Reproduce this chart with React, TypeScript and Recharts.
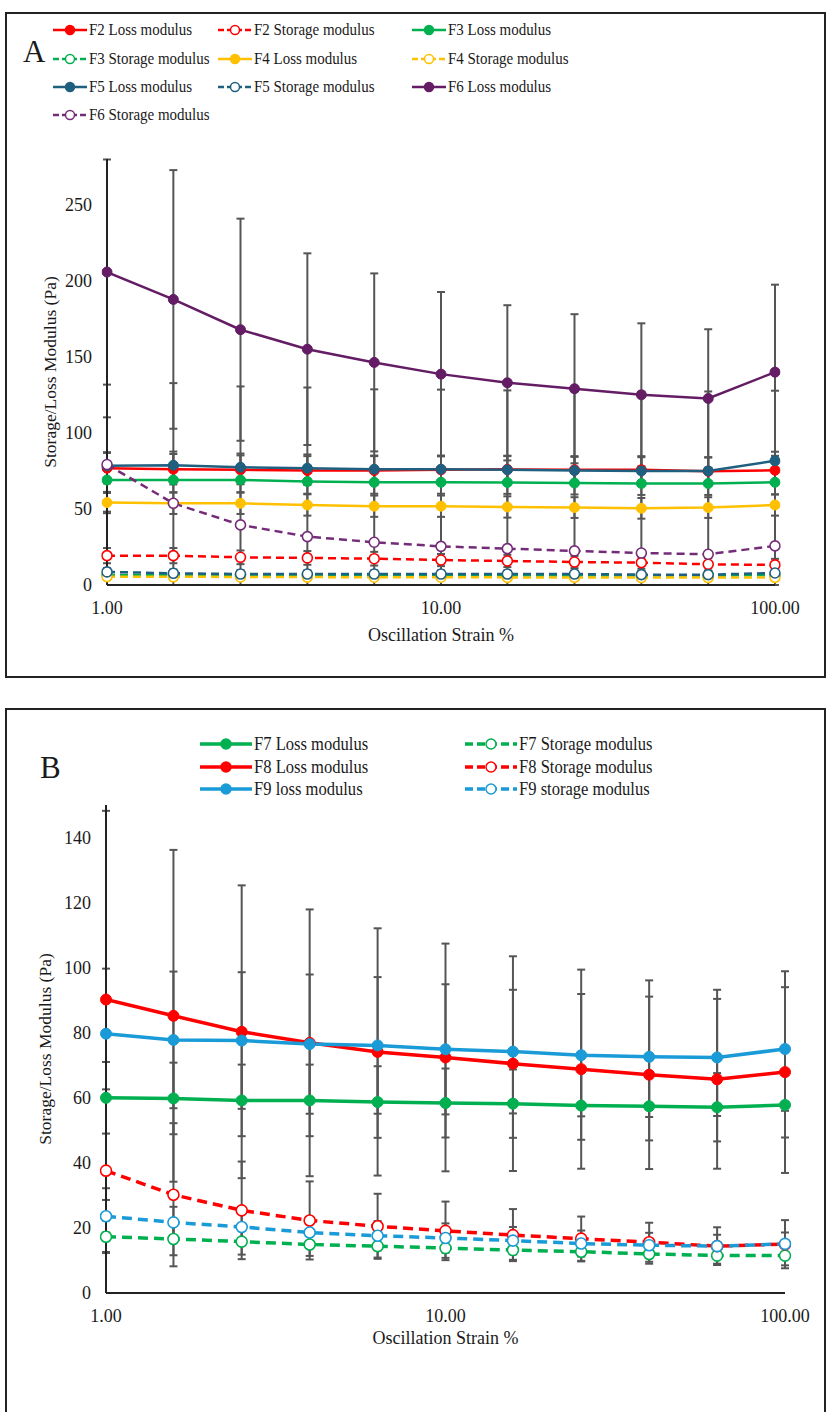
import React from 'react';
import { LineChart, Line, XAxis, YAxis, ErrorBar, Label } from 'recharts';

// oscillation strain (%), shared by both panels
const strain = [1, 1.58, 2.51, 3.98, 6.31, 10, 15.8, 25.1, 39.8, 63.1, 100];
const xTicks = [1, 10, 100];
const yTicksA = [0, 50, 100, 150, 200, 250];
const yTicksB = [0, 20, 40, 60, 80, 100, 120, 140];

// Panel A (Pa) with standard deviations
const f2Loss = [76.8, 76.1, 75.7, 75.2, 75.2, 75.7, 76.0, 75.7, 75.7, 74.8, 75.4];
const f2LossSd = [10, 10, 9.5, 9.5, 9.5, 9, 9, 9, 9, 9, 9.5];
const f2Storage = [19.3, 19.3, 18.2, 17.8, 17.3, 16.4, 15.8, 15.1, 14.7, 13.6, 13.2];
const f2StorageSd = [5, 5, 4.5, 4.5, 4.5, 4, 4, 4, 4, 4, 4];
const f3Loss = [69.0, 69.0, 69.0, 68.0, 67.5, 67.5, 67.4, 67.0, 66.7, 66.7, 67.5];
const f3LossSd = [8.5, 8, 8, 8, 7.5, 7.5, 7.5, 7.5, 7.5, 7.5, 8];
const f3Storage = [6.6, 6.6, 6.5, 6.5, 6.4, 6.4, 6.3, 6.3, 6.2, 6.2, 6.5];
const f3StorageSd = [2, 2, 2, 1.8, 1.8, 1.8, 1.8, 1.8, 1.7, 1.7, 1.8];
const f4Loss = [54.2, 53.7, 53.7, 52.6, 51.8, 51.8, 51.3, 50.9, 50.4, 50.9, 52.6];
const f4LossSd = [7, 7, 7, 7, 7, 7, 7, 6.8, 6.8, 6.8, 7];
const f4Storage = [5.5, 5.4, 5.3, 5.2, 5.1, 5.1, 5.0, 5.0, 4.9, 4.9, 5.0];
const f4StorageSd = [1.5, 1.5, 1.5, 1.4, 1.4, 1.4, 1.4, 1.3, 1.3, 1.3, 1.4];
const f5Loss = [78.3, 78.7, 77.4, 76.8, 76.1, 76.1, 75.7, 75.2, 75.0, 75.0, 81.6];
const f5LossSd = [9, 9, 9, 9, 9, 9, 9, 9, 9, 9, 6];
const f5Storage = [8.6, 7.7, 7.2, 7.2, 7.2, 7.2, 7.2, 7.2, 6.8, 6.8, 7.9];
const f5StorageSd = [2.5, 2.5, 2.5, 2.4, 2.4, 2.4, 2.3, 2.3, 2.3, 2.3, 2.5];
const f6Loss = [205.7, 187.7, 167.8, 155.0, 146.3, 138.6, 132.9, 129.0, 125.0, 122.6, 139.9];
const f6LossSd = [74, 85, 73, 63, 58.5, 54, 51, 49, 47, 45.5, 57.5];
const f6Storage = [79.2, 53.7, 39.5, 31.8, 28.1, 25.4, 23.9, 22.4, 21.0, 20.2, 25.7];
const f6StorageSd = [31, 79, 91, 98, 100.5, 103, 104, 105, 106, 107, 102];

// Panel B (Pa) with standard deviations
const f7Loss = [60.0, 59.8, 59.2, 59.2, 58.7, 58.4, 58.2, 57.6, 57.4, 57.1, 57.8];
const f7LossSd = [11, 11, 11, 11, 11, 10.6, 10.5, 10.5, 10.5, 10.5, 10];
const f7Storage = [17.3, 16.6, 15.8, 14.9, 14.4, 13.8, 13.2, 12.7, 12.0, 11.5, 11.5];
const f7StorageSd = [5, 5, 4, 3.5, 3.5, 3, 3, 3, 3, 2.5, 3];
const f8Loss = [90.2, 85.2, 80.3, 76.9, 74.1, 72.4, 70.5, 68.8, 67.1, 65.7, 67.9];
const f8LossSd = [58, 51, 45, 41, 38, 35, 33, 30.6, 29, 27.5, 31];
const f8Storage = [37.6, 30.2, 25.4, 22.3, 20.5, 19.1, 17.8, 16.7, 15.6, 14.4, 15.0];
const f8StorageSd = [25, 22, 15, 12, 10, 9, 8, 6.8, 6, 5.8, 7.4];
const f9Loss = [79.7, 77.8, 77.6, 76.5, 76.1, 74.9, 74.2, 73.1, 72.6, 72.4, 75.0];
const f9LossSd = [20, 21, 21, 21.4, 21, 20, 19, 18.8, 18.5, 18, 19];
const f9Storage = [23.6, 21.7, 20.3, 18.6, 17.6, 16.9, 16.1, 15.2, 14.7, 14.4, 15.1];
const f9StorageSd = [5, 4.8, 4.6, 4.5, 4.5, 4.5, 4.2, 4, 3.8, 3.5, 3.5];

type Series = { key: string; name: string; color: string; dashed: boolean; values: number[]; sd: number[] };

const seriesA: Series[] = [
  { key: 'f2l', name: 'F2 Loss modulus', color: '#ff0000', dashed: false, values: f2Loss, sd: f2LossSd },
  { key: 'f2s', name: 'F2 Storage modulus', color: '#ff0000', dashed: true, values: f2Storage, sd: f2StorageSd },
  { key: 'f3l', name: 'F3 Loss modulus', color: '#00b050', dashed: false, values: f3Loss, sd: f3LossSd },
  { key: 'f3s', name: 'F3 Storage modulus', color: '#00b050', dashed: true, values: f3Storage, sd: f3StorageSd },
  { key: 'f4l', name: 'F4 Loss modulus', color: '#ffc000', dashed: false, values: f4Loss, sd: f4LossSd },
  { key: 'f4s', name: 'F4 Storage modulus', color: '#ffc000', dashed: true, values: f4Storage, sd: f4StorageSd },
  { key: 'f5l', name: 'F5 Loss modulus', color: '#1f5f80', dashed: false, values: f5Loss, sd: f5LossSd },
  { key: 'f5s', name: 'F5 Storage modulus', color: '#1f5f80', dashed: true, values: f5Storage, sd: f5StorageSd },
  { key: 'f6l', name: 'F6 Loss modulus', color: '#641c64', dashed: false, values: f6Loss, sd: f6LossSd },
  { key: 'f6s', name: 'F6 Storage modulus', color: '#742c78', dashed: true, values: f6Storage, sd: f6StorageSd },
];

const seriesB: Series[] = [
  { key: 'f7l', name: 'F7 Loss modulus', color: '#00b050', dashed: false, values: f7Loss, sd: f7LossSd },
  { key: 'f7s', name: 'F7 Storage modulus', color: '#00b050', dashed: true, values: f7Storage, sd: f7StorageSd },
  { key: 'f8l', name: 'F8 Loss modulus', color: '#ff0000', dashed: false, values: f8Loss, sd: f8LossSd },
  { key: 'f8s', name: 'F8 Storage modulus', color: '#ff0000', dashed: true, values: f8Storage, sd: f8StorageSd },
  { key: 'f9l', name: 'F9 loss modulus', color: '#1a9bd7', dashed: false, values: f9Loss, sd: f9LossSd },
  { key: 'f9s', name: 'F9 storage modulus', color: '#1a9bd7', dashed: true, values: f9Storage, sd: f9StorageSd },
];

const FONT = '"Liberation Serif", "Times New Roman", serif';
const INK = '#1a1a1a';
const ERR = '#555555';

// error bars are cut off at the plot edges, as in the original figure
function buildRows(series: Series[], yDomain: [number, number]) {
  return strain.map((x, i) => {
    const row: Record<string, any> = { x };
    series.forEach(s => {
      const v = s.values[i];
      const sd = s.sd[i];
      row[s.key] = v;
      row[s.key + 'Err'] = [Math.min(sd, v - yDomain[0]), Math.min(sd, yDomain[1] - v)];
    });
    return row;
  });
}

const LegendSymbol: React.FC<{ color: string; dashed: boolean; w: number; lw: number; r: number; dash: string }> = ({ color, dashed, w, lw, r, dash }) => (
  <svg width={w} height={14} style={{ display: 'block' }}>
    <line x1={0} y1={7} x2={w} y2={7} stroke={color} strokeWidth={lw} strokeDasharray={dashed ? dash : undefined} />
    <circle cx={w / 2} cy={7} r={r} fill={dashed ? '#fff' : color} stroke={color} strokeWidth={1.5} />
  </svg>
);

interface PanelProps {
  letter: string;
  top: number;
  boxHeight: number;
  series: Series[];
  yDomain: [number, number];
  yTicks: number[];
  chartTop: number;
  chartH: number;
  margin: { top: number; right: number; bottom: number; left: number };
  lineW: number;
  dotR: number;
  dash: string;
  legendCols: number[];
  legendRows: number[];
  legendFont: number;
  legendSqueeze: number;
  legendDash: string;
  symbolW: number;
  letterPos: { left: number; top: number };
  yTitleDx: number;
  xTitleDy: number;
}

const Panel: React.FC<PanelProps> = p => {
  const rows = buildRows(p.series, p.yDomain);
  const nCols = p.legendCols.length;
  return (
    <>
      <div style={{ position: 'absolute', left: 5, top: p.top, width: 821, height: p.boxHeight, border: '2px solid #222', boxSizing: 'border-box' }} />
      <div style={{ position: 'absolute', left: p.letterPos.left, top: p.letterPos.top, fontSize: 31, lineHeight: '31px', fontFamily: FONT, color: INK }}>{p.letter}</div>
      {p.series.map((s, i) => (
        <div key={s.key} style={{ position: 'absolute', left: p.legendCols[i % nCols], top: p.legendRows[Math.floor(i / nCols)] - 9, display: 'flex', alignItems: 'center', height: 18, fontFamily: FONT, fontSize: p.legendFont, color: INK, whiteSpace: 'nowrap' }}>
          <LegendSymbol color={s.color} dashed={s.dashed} w={p.symbolW} lw={p.lineW} r={p.dotR - 0.5} dash={p.legendDash} />
          <span style={{ marginLeft: 2, fontFamily: FONT, display: 'inline-block', transform: `scaleX(${p.legendSqueeze})`, transformOrigin: 'left center' }}>{s.name}</span>
        </div>
      ))}
      <div style={{ position: 'absolute', left: 0, top: p.chartTop }}>
        <LineChart width={826} height={p.chartH} data={rows} margin={p.margin}>
          <XAxis
            dataKey="x"
            type="number"
            scale="log"
            domain={[1, 100]}
            ticks={xTicks}
            allowDataOverflow
            tickFormatter={(v: number) => v.toFixed(2)}
            tickLine={false}
            tickSize={0}
            tickMargin={16}
            height={75}
            axisLine={{ stroke: '#222', strokeWidth: 2 }}
            tick={{ fill: INK, fontSize: 18, fontFamily: FONT }}
          >
            <Label
              content={(lp: any) => {
                const vb = lp.viewBox;
                return (
                  <text x={vb.x + vb.width / 2} y={vb.y + p.xTitleDy} textAnchor="middle" dominantBaseline="central" fill={INK} fontSize={18} fontFamily={FONT}>
                    Oscillation Strain %
                  </text>
                );
              }}
            />
          </XAxis>
          <YAxis
            type="number"
            domain={p.yDomain}
            ticks={p.yTicks}
            allowDataOverflow
            width={50}
            tickLine={false}
            tickSize={0}
            tickMargin={15}
            axisLine={{ stroke: '#222', strokeWidth: 2 }}
            tick={{ fill: INK, fontSize: 18, fontFamily: FONT }}
          >
            <Label
              content={(lp: any) => {
                const vb = lp.viewBox;
                const cx = vb.x + p.yTitleDx;
                const cy = vb.y + vb.height / 2;
                return (
                  <text x={cx} y={cy} transform={`rotate(-90 ${cx} ${cy})`} textAnchor="middle" dominantBaseline="central" fill={INK} fontSize={17.5} fontFamily={FONT}>
                    Storage/Loss Modulus (Pa)
                  </text>
                );
              }}
            />
          </YAxis>
          {p.series.map(s => (
            <Line
              key={s.key}
              dataKey={s.key}
              name={s.name}
              type="linear"
              stroke={s.color}
              strokeWidth={p.lineW}
              strokeDasharray={s.dashed ? p.dash : undefined}
              dot={{ r: p.dotR, fill: s.dashed ? '#fff' : s.color, stroke: s.color, strokeWidth: s.dashed ? 1.6 : 1, strokeDasharray: '', clipDot: false }}
              activeDot={false}
              isAnimationActive={false}
            >
              <ErrorBar dataKey={s.key + 'Err'} direction="y" width={4} strokeWidth={2} stroke={ERR} />
            </Line>
          ))}
        </LineChart>
      </div>
    </>
  );
};

export default function App() {
  return (
    <div style={{ position: 'absolute', left: 0, top: 0, width: 826, height: 1412, background: '#fff', overflow: 'hidden' }}>
      <Panel
        letter="A"
        top={12}
        boxHeight={666}
        series={seriesA}
        yDomain={[0, 280]}
        yTicks={yTicksA}
        chartTop={0}
        chartH={680}
        margin={{ top: 159, right: 51, bottom: 20, left: 57 }}
        lineW={2.5}
        dotR={5}
        dash="8 5"
        legendCols={[53, 218, 412]}
        legendRows={[30, 59, 87, 115]}
        legendFont={17}
        legendSqueeze={0.88}
        legendDash="6 3"
        symbolW={34}
        letterPos={{ left: 23, top: 36 }}
        yTitleDx={-7}
        xTitleDy={50}
      />
      <Panel
        letter="B"
        top={708}
        boxHeight={720}
        series={seriesB}
        yDomain={[0, 150]}
        yTicks={yTicksB}
        chartTop={700}
        chartH={700}
        margin={{ top: 105, right: 41, bottom: 32, left: 56 }}
        lineW={3.5}
        dotR={5.5}
        dash="10 6"
        legendCols={[200, 465]}
        legendRows={[744, 767, 789]}
        legendFont={18}
        legendSqueeze={0.92}
        legendDash="8 4"
        symbolW={52}
        letterPos={{ left: 40, top: 752 }}
        yTitleDx={-11}
        xTitleDy={45}
      />
    </div>
  );
}
